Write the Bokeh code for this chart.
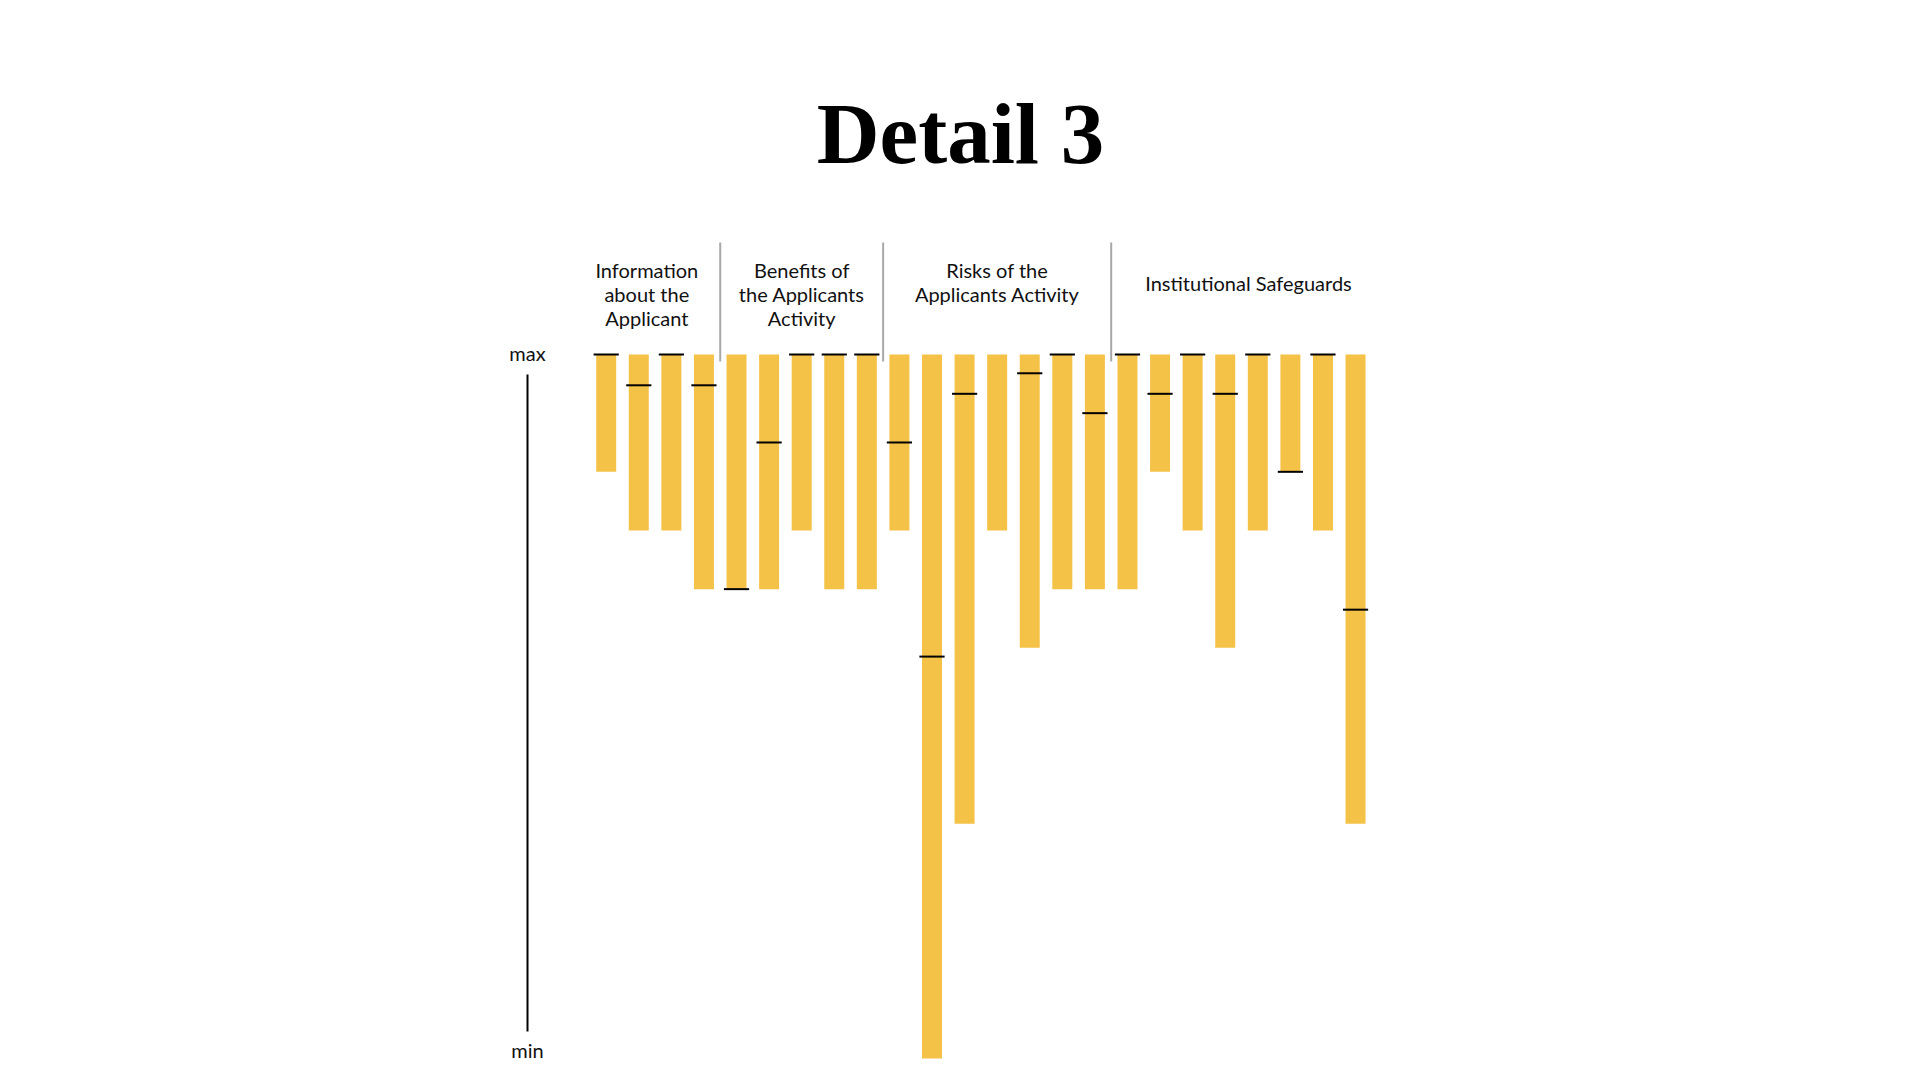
import math
from bokeh.plotting import figure
from bokeh.models import Range1d
from bokeh.core.properties import value
from bokeh.embed import file_html
from bokeh.resources import INLINE

# ---------------- data ----------------
group_names = [
    ["Information", "about the", "Applicant"],
    ["Benefits of", "the Applicants", "Activity"],
    ["Risks of the", "Applicants Activity"],
    ["Institutional Safeguards"],
]
group_sizes = [4, 5, 7, 8]
# bar depth below "max" (0 = max, 24 = min)
bar_values = [4, 6, 6, 8,
              8, 8, 6, 8, 8,
              6, 24, 16, 6, 10, 8, 8,
              8, 4, 6, 10, 6, 4, 6, 16]
# black marker position on each bar (nan = no marker)
marker_values = [0, 1.05, 0, 1.05,
                 8, 3, 0, 0, 0,
                 3, 10.3, 1.34, float("nan"), 0.64, 0, 2,
                 0, 1.34, 0, 1.34, 0, 4, 0, 8.7]
axis_labels = ["max", "min"]
title_text = "Detail 3"

# ---------------- layout ----------------
W, H = 1904, 1064
OFF = 0.0          # page offset of the plot frame
PITCH = 32.58      # px per bar slot
X0_PX = 605.7      # screen x of first bar centre
UNIT_PX = 29.33    # px per value unit
Y0_PX = 354.0      # screen y of "max"
BASE_CORR = 0.39   # em correction for alphabetic baseline


def sx(px):
    return (px - X0_PX) / PITCH


def sy(py):
    return (py - Y0_PX) / UNIT_PX


x_start = sx(OFF)
x_end = x_start + W / PITCH
y_top = sy(OFF)
y_bottom = y_top + H / UNIT_PX

p = figure(width=W, height=H, output_backend="svg", toolbar_location=None,
           x_range=Range1d(x_start, x_end), y_range=Range1d(start=y_bottom, end=y_top),
           min_border=0, background_fill_color="white", border_fill_color="white")
p.axis.visible = False
p.grid.visible = False
p.outline_line_color = None

xs = list(range(len(bar_values)))
BAR_COLOR = "#F4C247"

p.vbar(x=xs, width=20 / PITCH, top=[0] * len(xs), bottom=bar_values,
       fill_color=BAR_COLOR, line_color=None)

half = 12.6 / PITCH
mx = [i for i, m in zip(xs, marker_values) if not math.isnan(m)]
my = [m for m in marker_values if not math.isnan(m)]
p.segment(x0=[x - half for x in mx], x1=[x + half for x in mx], y0=my, y1=my,
          line_color="black", line_width=2)

# group separators
seps = []
c = 0
for n in group_sizes[:-1]:
    c += n
    seps.append(c - 0.5)
p.segment(x0=seps, x1=seps, y0=[sy(242)] * len(seps), y1=[sy(361)] * len(seps),
          line_color="#A8A8A8", line_width=2)

# group labels
LABEL_FS = 20.0
label_x_px = [646.3, 801.2, 996.7, 1248.0]
label_first_baseline_px = [277.3, 277.3, 277.3, 290.0]
LINE_H = 24.2
tx, ty, tt = [], [], []
for lines, lx, lb in zip(group_names, label_x_px, label_first_baseline_px):
    for k, line in enumerate(lines):
        tx.append(sx(lx))
        ty.append(sy(lb + k * LINE_H - BASE_CORR * LABEL_FS))
        tt.append(line)
p.text(x=tx, y=ty, text=tt, text_font=value("Lato"), text_font_size=f"{LABEL_FS}px",
       text_align="center", text_baseline="alphabetic", text_color="#111111")

# vertical scale: line + max/min
AX_X = sx(527)
p.segment(x0=[AX_X], x1=[AX_X], y0=[sy(374)], y1=[sy(1031)],
          line_color="black", line_width=2)
p.text(x=[AX_X, AX_X], y=[sy(352.5), sy(1049.5)], text=axis_labels,
       text_font=value("Lato"), text_font_size="20px", text_align="center",
       text_baseline="middle", text_color="#111111")

# title
TITLE_FS = 87.0
p.text(x=[sx(960)], y=[sy(166.7 - BASE_CORR * TITLE_FS)], text=[title_text],
       text_font=value("Liberation Serif"),
       text_font_style="bold", text_font_size=f"{TITLE_FS}px", text_align="center",
       text_baseline="alphabetic", text_color="#000000")

open("out.html", "w").write(file_html(p, INLINE))
